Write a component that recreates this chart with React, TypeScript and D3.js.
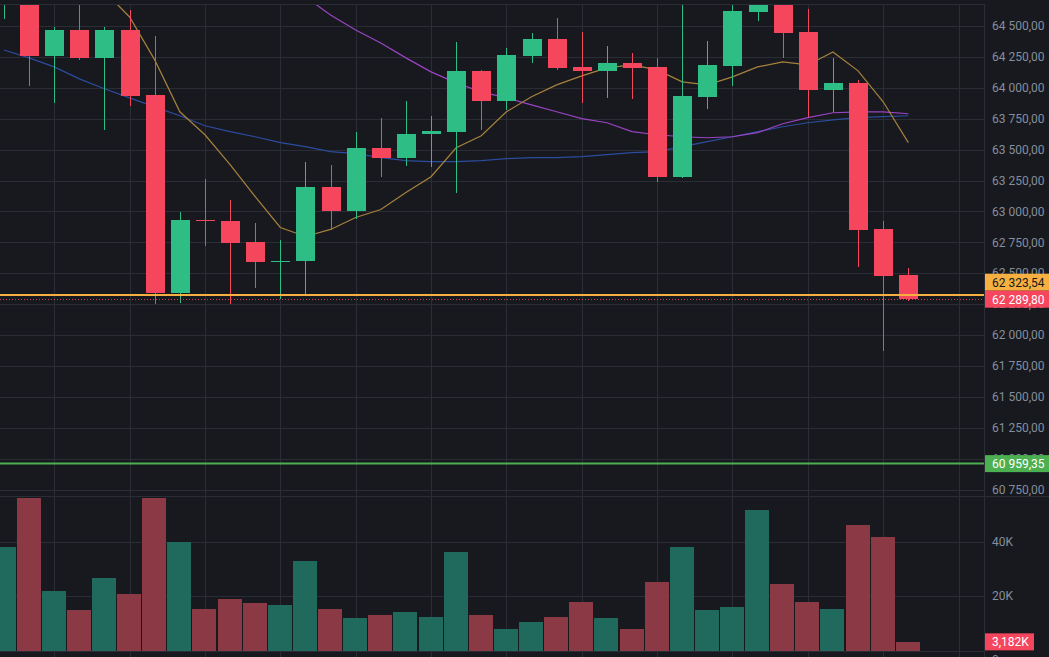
import React, { useEffect, useRef } from 'react';
import * as d3 from 'd3';

// OHLC candles, oldest first
const opens = [
  64700, 64790, 64258, 64468, 64242, 64468, 63944, 62339, 62927, 62920,
  62750, 62589, 62597, 63194, 63000, 63516, 63435, 63629, 63645, 64137,
  63895, 64258, 64395, 64169, 64137, 64202, 64169, 63282, 63927, 64177,
  64613, 64720, 64452, 63984, 64040, 62855, 62484
];
const highs = [
  64850, 64820, 64492, 64700, 64492, 64630, 64420, 62992, 63266, 63089,
  62903, 62766, 63403, 63379, 63645, 63758, 63895, 63774, 64371, 64145,
  64323, 64444, 64565, 64452, 64339, 64282, 64242, 64750, 64379, 64720,
  64760, 64780, 64637, 64242, 64065, 62919, 62540
];
const lows = [
  64560, 64015, 63880, 64226, 63660, 63855, 62250, 62258, 62718, 62250,
  62379, 62290, 62331, 62847, 62935, 63282, 63371, 63363, 63145, 63661,
  63823, 64202, 64145, 63879, 63919, 63911, 63234, 63270, 63831, 64016,
  64540, 64242, 63766, 63806, 62548, 61871, 62274
];
const closes = [
  64790, 64258, 64468, 64242, 64468, 63935, 62339, 62927, 62920, 62742,
  62589, 62600, 63194, 63000, 63516, 63435, 63629, 63653, 64137, 63895,
  64266, 64395, 64161, 64137, 64202, 64161, 63282, 63935, 64185, 64621,
  64700, 64444, 63984, 64040, 62847, 62476, 62289.8
];
// volume in thousands
const volumes = [
  38.1, 56.2, 21.9, 14.9, 26.7, 20.8, 56.2, 40.0, 15.3, 18.9,
  17.5, 16.7, 32.9, 15.3, 11.9, 13.1, 14.2, 12.3, 36.2, 13.1,
  7.9, 10.5, 12.3, 17.8, 11.9, 7.9, 25.2, 38.1, 14.9, 16.0,
  51.7, 24.4, 17.8, 15.3, 46.1, 41.7, 3.182
];

// moving averages (null where the line has not started yet)
const ma7 = [
  null, null, null, null, 64780, 64573, 64226, 63806, 63620, 63378,
  63120, 62870, 62797, 62854, 62951, 63015, 63152, 63281, 63515, 63612,
  63806, 63927, 64024, 64097, 64161, 64185, 64145, 64048, 64024, 64088,
  64169, 64209, 64185, 64290, 64137, 63887, 63556
];
const ma25 = [
  null, null, null, null, null, null, null, null, null, null,
  null, null, 64735, 64589, 64468, 64363, 64242, 64129, 64040, 63967,
  63919, 63862, 63806, 63750, 63717, 63645, 63620, 63604, 63596, 63604,
  63637, 63709, 63758, 63798, 63806, 63806, 63790
];
const ma99 = [
  64306, 64242, 64169, 64072, 63992, 63919, 63846, 63774, 63693, 63645,
  63604, 63556, 63524, 63483, 63467, 63435, 63411, 63402, 63402, 63411,
  63427, 63435, 63435, 63443, 63459, 63475, 63483, 63524, 63564, 63604,
  63645, 63685, 63717, 63741, 63758, 63766, 63774
];

const priceTicks = [
  64500, 64250, 64000, 63750, 63500, 63250, 63000, 62750,
  62500, 62250, 62000, 61750, 61500, 61250, 61000, 60750
];
const volumeTicks = [20, 40];
const volumeTickLabels = ['20K', '40K'];

const lastPrice = 62289.8;
const markPrice = 62323.54;
const targetPrice = 60959.35;
const lastVolumeLabel = '3,182K';

const W = 1049;
const H = 657;
const AXIS_X = 985;
const PANE_TOP = 5;
const VOL_TOP = 497;

const BG = '#17191f';
const GRID = '#2a2d35';
const TEXT = '#848e9c';
const UP = '#2ebd85';
const DOWN = '#f6465d';
const UP_VOL = '#1f6a5c';
const DOWN_VOL = '#8b3a45';

const fmtPrice = (v: number) => {
  const [int, dec] = v.toFixed(2).split('.');
  return int.replace(/\B(?=(\d{3})+(?!\d))/g, ' ') + ',' + dec;
};

const App = () => {
  const svgRef = useRef<SVGSVGElement>(null);

  useEffect(() => {
    const svg = d3.select(svgRef.current);
    svg.selectAll('*').remove();

    const x = d3.scaleLinear().domain([0, 36]).range([4, 4 + 25.12 * 36]);
    const y = d3.scaleLinear().domain([62000, 64500]).range([335, 26]);
    const yv = d3.scaleLinear().domain([0, 40]).range([650.5, 541.7]);

    svg.append('rect').attr('width', W).attr('height', H).attr('fill', BG);

    const defs = svg.append('defs');
    defs.append('clipPath').attr('id', 'price-clip')
      .append('rect').attr('x', 0).attr('y', PANE_TOP)
      .attr('width', AXIS_X - 1).attr('height', VOL_TOP - PANE_TOP);

    // grid
    const grid = svg.append('g').attr('shape-rendering', 'crispEdges');
    const vIdx = d3.range(2, 39, 3);
    grid.selectAll('.vgrid').data(vIdx).enter().append('line')
      .attr('x1', d => Math.round(x(d)) + 0.5).attr('x2', d => Math.round(x(d)) + 0.5)
      .attr('y1', PANE_TOP).attr('y2', H)
      .attr('stroke', GRID);
    grid.selectAll('.hgrid').data(priceTicks).enter().append('line')
      .attr('x1', 0).attr('x2', AXIS_X - 1)
      .attr('y1', d => Math.round(y(d)) + 0.5).attr('y2', d => Math.round(y(d)) + 0.5)
      .attr('stroke', GRID);
    grid.selectAll('.vol-grid').data([0, ...volumeTicks]).enter().append('line')
      .attr('x1', 0).attr('x2', AXIS_X - 1)
      .attr('y1', d => Math.round(yv(d)) + 0.5).attr('y2', d => Math.round(yv(d)) + 0.5)
      .attr('stroke', GRID);
    grid.append('line')
      .attr('x1', 0).attr('x2', W).attr('y1', VOL_TOP - 0.5).attr('y2', VOL_TOP - 0.5)
      .attr('stroke', GRID);
    grid.append('line')
      .attr('x1', AXIS_X - 0.5).attr('x2', AXIS_X - 0.5).attr('y1', PANE_TOP).attr('y2', H)
      .attr('stroke', GRID);
    grid.append('line')
      .attr('x1', 0).attr('x2', AXIS_X).attr('y1', PANE_TOP - 0.5).attr('y2', PANE_TOP - 0.5)
      .attr('stroke', GRID);

    // volume bars
    const idx = d3.range(closes.length);
    svg.append('g').attr('shape-rendering', 'crispEdges')
      .selectAll('rect').data(idx).enter().append('rect')
      .attr('x', i => Math.round(x(i) - 12.5))
      .attr('width', 24)
      .attr('y', i => yv(volumes[i]))
      .attr('height', i => yv(0) - yv(volumes[i]))
      .attr('fill', i => (closes[i] >= opens[i] ? UP_VOL : DOWN_VOL));

    const price = svg.append('g').attr('clip-path', 'url(#price-clip)');

    // moving averages
    const maLine = (vals: (number | null)[]) =>
      d3.line<number>()
        .defined(i => vals[i] != null)
        .x(i => x(i))
        .y(i => y(vals[i] as number))(idx);
    [
      { vals: ma99, color: '#2c4c9e' },
      { vals: ma25, color: '#9a43c4' },
      { vals: ma7, color: '#a8823c' },
    ].forEach(m => {
      price.append('path')
        .attr('d', maLine(m.vals))
        .attr('fill', 'none')
        .attr('stroke', m.color)
        .attr('stroke-width', 1.2);
    });

    // candles
    const candles = price.append('g').attr('shape-rendering', 'crispEdges')
      .selectAll('g').data(idx).enter().append('g');
    candles.append('line')
      .attr('x1', i => Math.round(x(i)) + 0.5).attr('x2', i => Math.round(x(i)) + 0.5)
      .attr('y1', i => y(highs[i])).attr('y2', i => y(lows[i]))
      .attr('stroke', i => (closes[i] >= opens[i] ? UP : DOWN));
    candles.append('rect')
      .attr('x', i => Math.round(x(i)) - 9)
      .attr('width', 19)
      .attr('y', i => y(Math.max(opens[i], closes[i])))
      .attr('height', i => Math.max(1, Math.abs(y(opens[i]) - y(closes[i]))))
      .attr('fill', i => (closes[i] >= opens[i] ? UP : DOWN));

    // price lines
    svg.append('line')
      .attr('x1', 0).attr('x2', AXIS_X - 1)
      .attr('y1', y(markPrice)).attr('y2', y(markPrice))
      .attr('stroke', '#f5b041').attr('stroke-width', 2);
    svg.append('line')
      .attr('x1', 0).attr('x2', AXIS_X - 1)
      .attr('y1', Math.round(y(lastPrice)) + 0.5).attr('y2', Math.round(y(lastPrice)) + 0.5)
      .attr('stroke', DOWN).attr('stroke-dasharray', '1,2').attr('opacity', 0.8);
    svg.append('line')
      .attr('x1', 0).attr('x2', AXIS_X - 1)
      .attr('y1', y(targetPrice)).attr('y2', y(targetPrice))
      .attr('stroke', '#4caf50').attr('stroke-width', 2);

    // right axis
    const axis = svg.append('g')
      .style('font-family', 'Roboto, "Liberation Sans", sans-serif')
      .style('font-size', '12px');
    axis.selectAll('.ptick').data(priceTicks).enter().append('text')
      .attr('x', 992).attr('y', d => y(d)).attr('dy', '0.35em')
      .attr('fill', TEXT).text(d => fmtPrice(d));
    axis.selectAll('.vtick').data(volumeTicks).enter().append('text')
      .attr('x', 992).attr('y', d => yv(d)).attr('dy', '0.35em')
      .attr('fill', TEXT).text((d, k) => volumeTickLabels[k]);
    axis.append('text')
      .attr('x', 992).attr('y', yv(0) + 9).attr('dy', '0.35em')
      .attr('fill', TEXT).text('0');

    const tag = (cy: number, label: string, bg: string, fg: string, w = W - AXIS_X) => {
      axis.append('rect')
        .attr('x', AXIS_X).attr('y', cy - 8.5).attr('width', w).attr('height', 17)
        .attr('fill', bg);
      axis.append('text')
        .attr('x', 992).attr('y', cy).attr('dy', '0.36em')
        .attr('fill', fg).text(label);
    };
    const lastY = y(lastPrice);
    tag(lastY - 17, fmtPrice(markPrice), '#f5b041', '#16181d');
    tag(lastY, fmtPrice(lastPrice), DOWN, '#ffffff');
    tag(y(targetPrice), fmtPrice(targetPrice), '#4caf50', '#ffffff');
    tag(yv(volumes[volumes.length - 1]), lastVolumeLabel, DOWN, '#ffffff', 49);
  }, []);

  return (
    <svg
      ref={svgRef}
      width={W}
      height={H}
      style={{ position: 'fixed', left: 0, top: 0, display: 'block' }}
    />
  );
};

export default App;
